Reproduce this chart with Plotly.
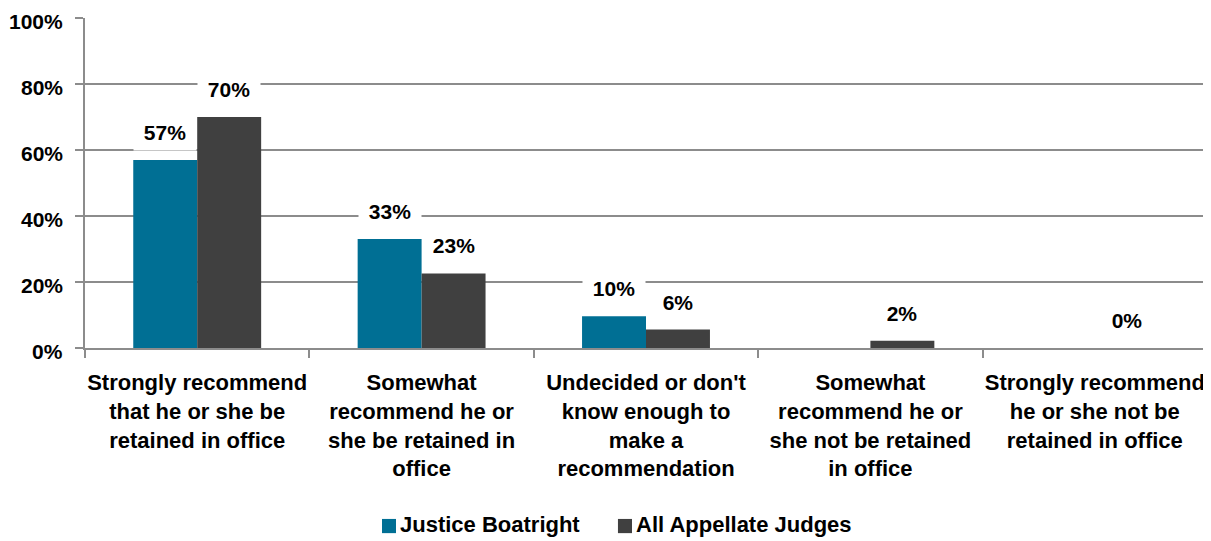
import plotly.graph_objects as go

categories = [
    "Strongly recommend<br>that he or she be<br>retained in office",
    "Somewhat<br>recommend he or<br>she be retained in<br>office",
    "Undecided or don't<br>know enough to<br>make a<br>recommendation",
    "Somewhat<br>recommend he or<br>she not be retained<br>in office",
    "Strongly recommend<br>he or she not be<br>retained in office",
]
series_names = ["Justice Boatright", "All Appellate Judges"]
boatright = [57, 33, 9.6, None, None]
all_judges = [70, 22.6, 5.6, 2.2, 0]
boatright_labels = ["57%", "33%", "10%", None, None]
all_judges_labels = ["70%", "23%", "6%", "2%", "0%"]
y_ticks = [0, 20, 40, 60, 80, 100]
y_tick_labels = ["0%", "20%", "40%", "60%", "80%", "100%"]

FONT = "Liberation Sans Narrow, Arial Narrow, Liberation Sans, Arial, sans-serif"
BLUE = "#006F94"
GRAY = "#404040"
AXIS = "#8c8c8c"
colors = [BLUE, GRAY]

def bold(size):
    return dict(size=size, family=FONT, color="black", weight="bold")

fig = go.Figure()
fig.add_trace(go.Bar(x=categories, y=boatright, name=series_names[0],
                     marker=dict(color=BLUE, line=dict(width=0))))
fig.add_trace(go.Bar(x=categories, y=all_judges, name=series_names[1],
                     marker=dict(color=GRAY, line=dict(width=0))))

annotations = []
# data labels with white boxes (they hide the gridlines behind them)
for vals, labs, shift in ((boatright, boatright_labels, -32), (all_judges, all_judges_labels, 32)):
    for cat, val, lab in zip(categories, vals, labs):
        if lab:
            annotations.append(dict(x=cat, y=val, text=lab, xshift=shift, yshift=9,
                                    yanchor="bottom", showarrow=False, bgcolor="white",
                                    width=60, height=34, valign="middle",
                                    borderpad=1, font=bold(21)))

# y tick labels (drawn as text so the top one is not clipped)
for v, t in zip(y_ticks, y_tick_labels):
    annotations.append(dict(x=0, xref="paper", y=v, yref="y", text=t, showarrow=False,
                            xanchor="right", yanchor="middle", xshift=-20, yshift=-3,
                            font=bold(21)))

# hand-drawn legend (keeps it from pushing the plot margins)
legend_x = [0.2647, 0.4750]   # left edge of each swatch, in plot-width fractions
sw = 0.0125                    # swatch width (paper x)
shapes = []
for lx, col, name in zip(legend_x, colors, series_names):
    shapes.append(dict(type="rect", xref="paper", yref="paper",
                       x0=lx, x1=lx + sw, y0=-0.561, y1=-0.518,
                       fillcolor=col, line=dict(width=0)))
    annotations.append(dict(x=lx + sw + 0.002, y=-0.536, xref="paper", yref="paper",
                            text=name, showarrow=False, xanchor="left", yanchor="middle",
                            font=bold(22)))

# page body has an 8px margin, so the figure is 8px smaller than the window
fig.update_layout(
    width=1203, height=533,
    margin=dict(l=77, r=4, t=10, b=193),
    paper_bgcolor="white", plot_bgcolor="white",
    barmode="group", bargap=0.43, bargroupgap=0,
    font=bold(21),
    annotations=annotations,
    shapes=shapes,
    showlegend=False,
    xaxis=dict(showline=True, linecolor=AXIS, linewidth=2, automargin=False,
               ticks="outside", tickson="boundaries", ticklen=8, tickcolor=AXIS,
               tickwidth=2, tickfont=bold(22), showgrid=False, ticklabelstandoff=14,
               tickangle=0, ticklabeloverflow="allow"),
    yaxis=dict(range=[0, 100], tickvals=y_ticks, showticklabels=False, automargin=False,
               showline=True, linecolor=AXIS, linewidth=2,
               showgrid=True, gridcolor=AXIS, gridwidth=2,
               ticks="outside", ticklen=8, tickcolor=AXIS, tickwidth=2,
               zeroline=False),
)
fig.write_html("out.html")
